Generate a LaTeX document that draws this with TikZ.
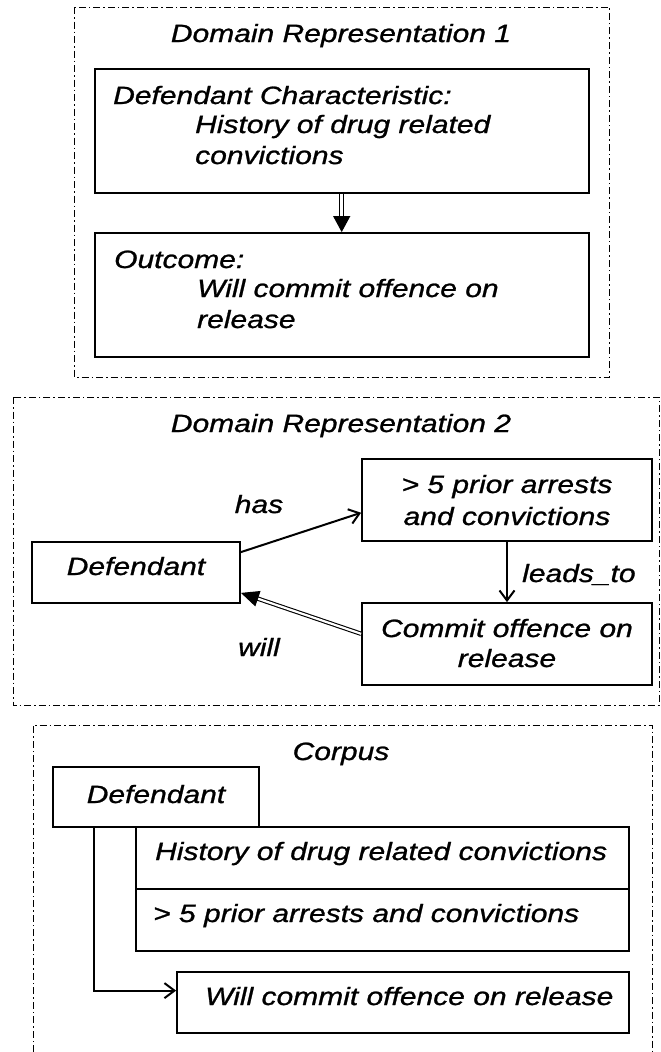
\documentclass[tikz,border=0pt]{standalone}
\usepackage{fontspec}
\setmainfont{Liberation Sans}[FakeStretch=1.2, FakeBold=1]
\usetikzlibrary{arrows.meta,calc}

\tikzset{
  frame/.style={draw, line width=1pt, dash pattern=on 7pt off 3pt on 1.5pt off 3pt},
  box/.style={draw, line width=1.8pt, inner sep=0pt},
  txt/.style={inner sep=0pt, font=\fontsize{25}{30}\selectfont\itshape},
  rel/.style={line width=2pt, -{Straight Barb[length=10pt,width=15pt,line width=2pt]}},
  dbl/.style={double, double distance=2.5pt, line width=1.2pt, -{Triangle[length=16pt,width=17pt]}},
}

\begin{document}
\begin{tikzpicture}[x=1pt, y=-1pt]
\useasboundingbox (0,0) rectangle (661,1052);

% ---- Domain Representation 1 ----
\draw[frame] (74.5,7) rectangle (609,377);
\node[txt, anchor=base] (t1) at (341,42) {Domain Representation 1};
\node[box, minimum width=494pt, minimum height=124pt] (dc) at (341.7,131) {};
\node[txt, anchor=base west] (dcl) at (113,104) {Defendant Characteristic:};
\node[txt, anchor=base west] (dcv1) at (195,133) {History of drug related};
\node[txt, anchor=base west] (dcv2) at (195,164) {convictions};
\node[box, minimum width=494pt, minimum height=124pt] (oc) at (341.7,295) {};
\node[txt, anchor=base west] (ocl) at (114,268) {Outcome:};
\node[txt, anchor=base west] (ocv1) at (197,297) {Will commit offence on};
\node[txt, anchor=base west] (ocv2) at (197,328) {release};
\draw[dbl] (dc.south) -- (oc.north);

% ---- Domain Representation 2 ----
\draw[frame] (13,397) rectangle (659,705);
\node[txt, anchor=base] (t2) at (341,432) {Domain Representation 2};
\node[box, minimum width=208pt, minimum height=61pt] (def2) at (136,572.5) {};
\node[txt, anchor=base] (def2t) at (136,575) {Defendant};
\node[box, minimum width=290pt, minimum height=82pt] (pri2) at (507,500) {};
\node[txt, anchor=base] (pri2a) at (507,493) {> 5 prior arrests};
\node[txt, anchor=base] (pri2b) at (507,525) {and convictions};
\node[box, minimum width=290pt, minimum height=82pt] (com2) at (507,644) {};
\node[txt, anchor=base] (com2a) at (507,637) {Commit offence on};
\node[txt, anchor=base] (com2b) at (507,667) {release};
\draw[rel] (def2.11) -- (pri2.185);
\draw[rel] (pri2.south) -- (com2.north);
\draw[dbl, line width=1.1pt, double distance=2.2pt, -{Triangle[length=18pt,width=16pt]}] (com2.176) -- (def2.349);
\node[txt, anchor=base] (has) at (259,513) {has};
\node[txt, anchor=base] (will) at (259,656) {will};
\node[txt, anchor=base west] (leads) at (522,582) {leads\_to};

% ---- Corpus ----
\draw[frame] (33,1052) -- (33,725) -- (652,725) -- (652,1052);
\node[txt, anchor=base] (t3) at (341,760) {Corpus};
\node[box, minimum width=206pt, minimum height=60pt] (def3) at (156,797) {};
\node[txt, anchor=base] (def3t) at (156,803) {Defendant};
\node[box, minimum width=493pt, minimum height=62pt] (his3) at (382.5,858) {};
\node[txt, anchor=base west] (his3t) at (155,860) {History of drug related convictions};
\node[box, minimum width=493pt, minimum height=62pt] (pri3) at (382.5,920) {};
\node[txt, anchor=base west] (pri3t) at (153,922) {> 5 prior arrests and convictions};
\node[box, minimum width=452pt, minimum height=61pt] (wil3) at (403,1002.5) {};
\node[txt, anchor=base west] (wil3t) at (205,1005) {Will commit offence on release};
\draw[rel] ($(def3.south west)!0.2!(def3.south east)$) |- (wil3.177.5);
\end{tikzpicture}
\end{document}
